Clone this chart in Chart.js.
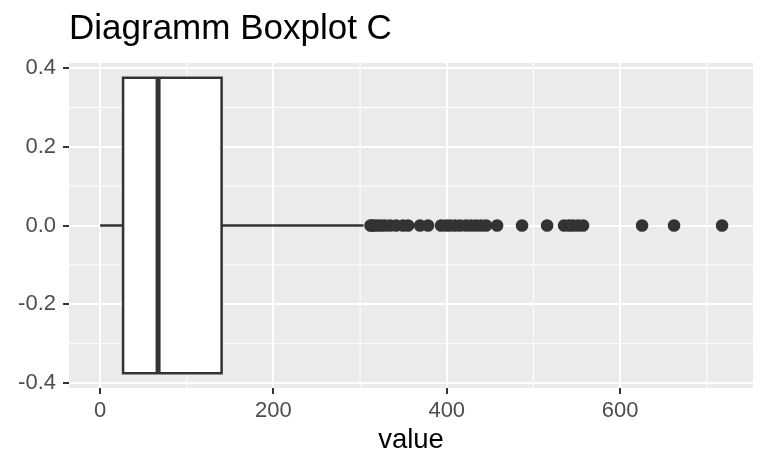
<!DOCTYPE html>
<html>
<head>
<meta charset="utf-8">
<title>Diagramm Boxplot C</title>
<script src="https://cdn.jsdelivr.net/npm/chart.js@4/dist/chart.umd.min.js"></script>
<style>
    html, body { margin: 0; padding: 0; background: #ffffff; }
    #wrap { width: 768px; height: 474px; }
</style>
</head>
<body>
<div id="wrap"><canvas id="boxChart" width="768" height="474"></canvas></div>
<script>
// -------------------------------------------------------------
// Boxplot C - horizontal box with outliers, ggplot look
// -------------------------------------------------------------

// five number summary: lower whisker, Q1, median, Q3, upper whisker
const boxValues = [0, 26.5, 66.9, 140.2, 304];
const boxHalfHeight = 0.375;

// points beyond the upper whisker
const outliers = [
    312, 313.5, 316.1, 319.6, 324.2, 328.8, 334.6, 341.5, 349.6, 355.4,
    369.2, 378.4, 393.4, 399.2, 403.8, 409.6, 415.4, 422.3, 428.1, 433.9,
    439.6, 445.4, 458.1, 486.9, 515.8, 535.4, 541.1, 545.7, 551.5, 557.3,
    625.4, 662.3, 717.7
];

// axis ticks
const xTicks = [0, 200, 400, 600];
const xMinorTicks = [100, 300, 500, 700];
const yTicks = [-0.4, -0.2, 0.0, 0.2, 0.4];
const yMinorTicks = [-0.3, -0.1, 0.1, 0.3];

const FONT = "'Liberation Sans', Arial, Helvetica, sans-serif";

document.addEventListener("DOMContentLoaded", () => {

    // panel background, minor grid and the box itself
    const boxPlugin = {
        id: 'ggBox',
        beforeDraw(chart) {
            const { ctx, chartArea: a, scales } = chart;
            ctx.save();
            ctx.fillStyle = '#EBEBEB';
            ctx.fillRect(a.left, a.top, a.right - a.left, a.bottom - a.top);

            ctx.strokeStyle = '#ffffff';
            ctx.lineWidth = 1;
            ctx.beginPath();
            xMinorTicks.forEach(v => {
                const px = scales.x.getPixelForValue(v);
                ctx.moveTo(px, a.top);
                ctx.lineTo(px, a.bottom);
            });
            yMinorTicks.forEach(v => {
                const py = scales.y.getPixelForValue(v);
                ctx.moveTo(a.left, py);
                ctx.lineTo(a.right, py);
            });
            ctx.stroke();
            ctx.restore();
        },
        beforeDatasetsDraw(chart) {
            const { ctx, scales } = chart;
            const xs = scales.x, ys = scales.y;
            const y0 = ys.getPixelForValue(0);
            const yTop = ys.getPixelForValue(boxHalfHeight);
            const yBot = ys.getPixelForValue(-boxHalfHeight);
            const [lo, q1, med, q3, hi] = boxValues.map(v => xs.getPixelForValue(v));

            ctx.save();
            ctx.strokeStyle = '#333333';
            ctx.lineWidth = 2.5;

            // whiskers
            ctx.beginPath();
            ctx.moveTo(lo, y0);
            ctx.lineTo(q1, y0);
            ctx.moveTo(q3, y0);
            ctx.lineTo(hi, y0);
            ctx.stroke();

            // box
            ctx.fillStyle = '#ffffff';
            ctx.fillRect(q1, yTop, q3 - q1, yBot - yTop);
            ctx.strokeRect(q1, yTop, q3 - q1, yBot - yTop);

            // median
            ctx.lineWidth = 5;
            ctx.beginPath();
            ctx.moveTo(med, yTop);
            ctx.lineTo(med, yBot);
            ctx.stroke();
            ctx.restore();
        }
    };

    const ctx = document.getElementById('boxChart').getContext('2d');
    new Chart(ctx, {
        type: 'scatter',
        data: {
            datasets: [{
                label: 'value',
                data: outliers.map(v => ({ x: v, y: 0 })),
                backgroundColor: '#333333',
                borderWidth: 0,
                pointRadius: 6.3,
                pointHoverRadius: 6.3
            }]
        },
        plugins: [boxPlugin],
        options: {
            responsive: false,
            animation: false,
            layout: { padding: { left: 0, right: 15, top: 0, bottom: 0 } },
            plugins: {
                legend: { display: false },
                tooltip: { enabled: false },
                title: {
                    display: true,
                    text: 'Diagramm Boxplot C',
                    align: 'start',
                    fullSize: false,
                    color: '#000000',
                    font: { family: FONT, size: 35, weight: 'normal', lineHeight: 1.2 },
                    padding: { top: 8, bottom: 13 }
                }
            },
            scales: {
                x: {
                    type: 'linear',
                    min: -35.9,
                    max: 753.4,
                    afterBuildTicks: (scale) => { scale.ticks = xTicks.map(v => ({ value: v })); },
                    afterFit: (scale) => { scale.height = 86; },
                    border: { display: false },
                    grid: {
                        color: '#ffffff',
                        lineWidth: 2,
                        tickColor: '#333333',
                        tickWidth: 2,
                        tickLength: 6
                    },
                    ticks: {
                        color: '#4D4D4D',
                        font: { family: FONT, size: 22 },
                        padding: 4,
                        maxRotation: 0
                    },
                    title: {
                        display: true,
                        text: 'value',
                        color: '#000000',
                        font: { family: FONT, size: 27.5 },
                        padding: { top: 0, bottom: 17 }
                    }
                },
                y: {
                    type: 'linear',
                    min: -0.4125,
                    max: 0.4125,
                    afterBuildTicks: (scale) => { scale.ticks = yTicks.map(v => ({ value: v })); },
                    afterFit: (scale) => { scale.width = 69; },
                    border: { display: false },
                    grid: {
                        color: '#ffffff',
                        lineWidth: 2,
                        tickColor: '#333333',
                        tickWidth: 2,
                        tickLength: 6
                    },
                    ticks: {
                        color: '#4D4D4D',
                        font: { family: FONT, size: 22 },
                        padding: 7,
                        callback: (v) => v.toFixed(1)
                    }
                }
            }
        }
    });
});
</script>
</body>
</html>
